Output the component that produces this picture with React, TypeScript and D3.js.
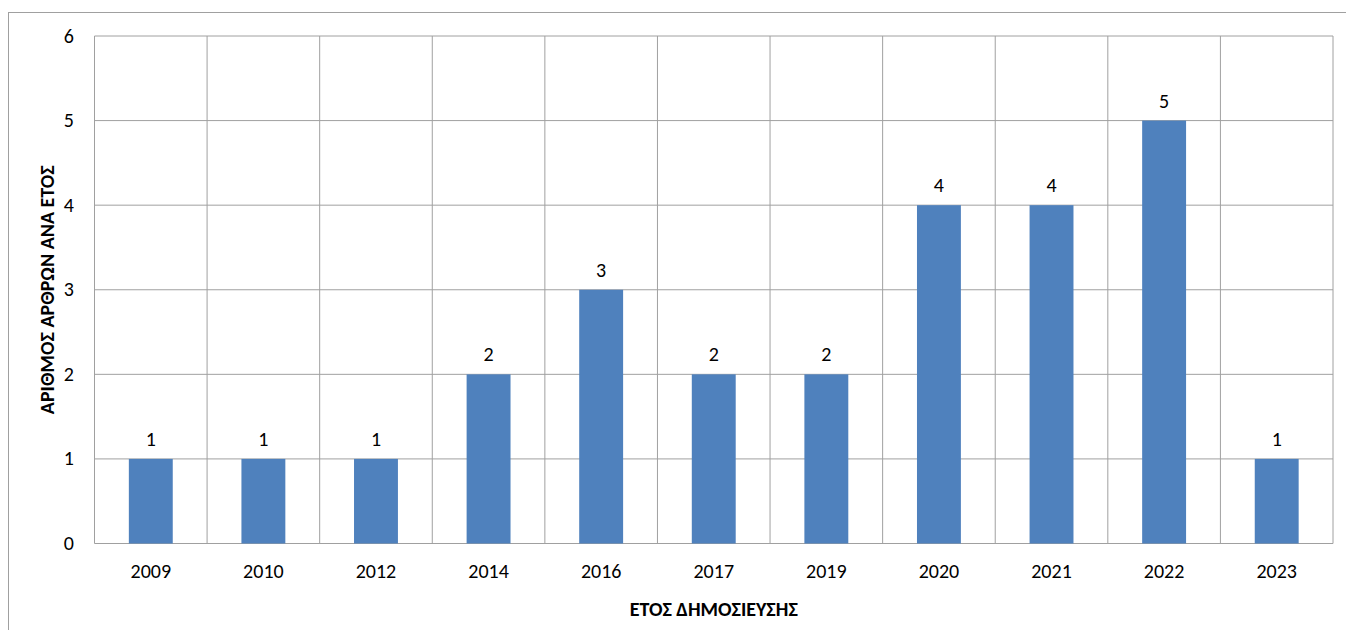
import React, { useEffect } from "react";
import * as d3 from "d3";

const years = ["2009", "2010", "2012", "2014", "2016", "2017", "2019", "2020", "2021", "2022", "2023"];
const counts = [1, 1, 1, 2, 3, 2, 2, 4, 4, 5, 1];
const yTicks = [0, 1, 2, 3, 4, 5, 6];
const xTitle = "ΕΤΟΣ ΔΗΜΟΣΙΕΥΣΗΣ";
const yTitle = "ΑΡΙΘΜΟΣ ΑΡΘΡΩΝ ΑΝΑ ΕΤΟΣ";

const W = 1346;
const H = 630;
const left = 94.5;
const right = 1333;
const top = 36;
const bottom = 543.5;
const font = "Carlito, Calibri, 'Noto Sans', sans-serif";
const grid = "#a0a0a0";
const barColor = "#4F81BD";

export default function App() {
  useEffect(() => {
    document.body.style.margin = "0";
    document.body.style.overflow = "hidden";
  }, []);

  const x = d3.scaleBand<string>().domain(years).range([left, right]).paddingInner(0).paddingOuter(0);
  const y = d3.scaleLinear().domain([0, 6]).range([bottom, top]);
  const bw = x.bandwidth() * 0.39;

  return (
    <svg width={W} height={H} style={{ display: "block", fontFamily: font }}>
      <rect x={0} y={0} width={W} height={H} fill="#fff" />
      <rect x={8.5} y={12.5} width={W + 20} height={H + 20} fill="none" stroke={grid} strokeWidth={1} />
      {yTicks.map((t) => (
        <line key={"h" + t} x1={left} x2={right} y1={y(t)} y2={y(t)} stroke={grid} strokeWidth={1} />
      ))}
      {years.map((yr) => (
        <line key={"v" + yr} x1={x(yr)!} x2={x(yr)!} y1={top} y2={bottom} stroke={grid} strokeWidth={1} />
      ))}
      <line x1={right} x2={right} y1={top} y2={bottom} stroke={grid} strokeWidth={1} />
      {years.map((yr, i) => {
        const cx = x(yr)! + x.bandwidth() / 2;
        return (
          <g key={"b" + yr}>
            <rect x={cx - bw / 2} y={y(counts[i])} width={bw} height={bottom - y(counts[i])} fill={barColor} />
            <text x={cx} y={y(counts[i]) - 13} textAnchor="middle" fontSize={20} fill="#000">
              {counts[i]}
            </text>
            <text x={cx} y={578} textAnchor="middle" fontSize={20} fill="#000">
              {yr}
            </text>
          </g>
        );
      })}
      {yTicks.map((t) => (
        <text key={"yl" + t} x={74} y={y(t) + 6.5} textAnchor="end" fontSize={20} fill="#000">
          {t}
        </text>
      ))}
      <text x={(left + right) / 2} y={616} textAnchor="middle" fontSize={20} fontWeight="bold" fill="#000">
        {xTitle}
      </text>
      <text
        transform={`translate(54, ${(top + bottom) / 2}) rotate(-90)`}
        textAnchor="middle"
        fontSize={20}
        fontWeight="bold"
        fill="#000"
      >
        {yTitle}
      </text>
    </svg>
  );
}
